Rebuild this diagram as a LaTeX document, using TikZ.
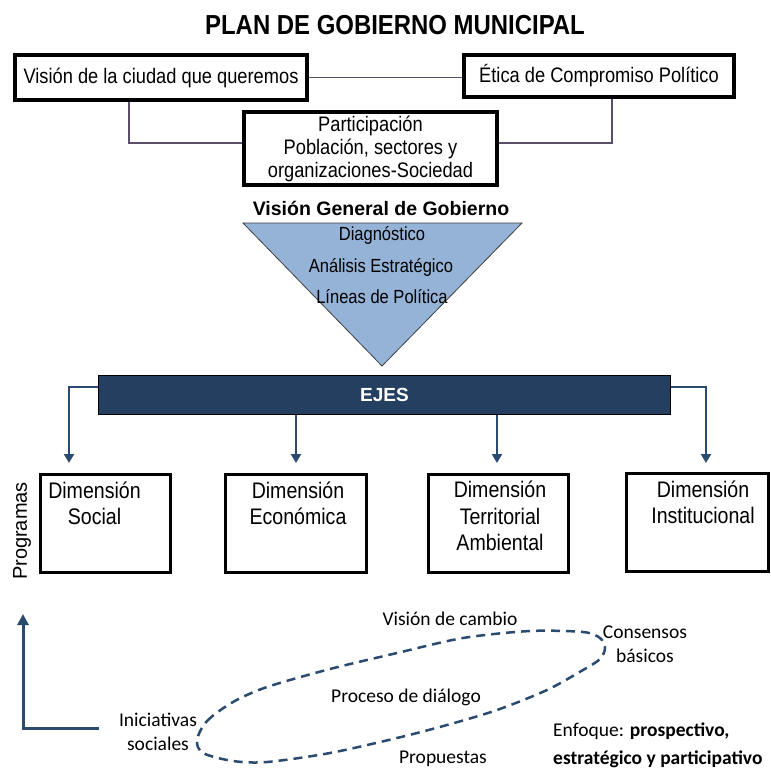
\documentclass[tikz,border=0pt]{standalone}
\usepackage{fontspec}
\setmainfont{Liberation Sans}
\newfontfamily\narrowfont[FakeStretch=0.87]{Liberation Sans}
\newfontfamily\calfont{Carlito}
\usetikzlibrary{arrows.meta}
\definecolor{trifill}{HTML}{95B3D7}
\definecolor{ejesblue}{HTML}{243F60}
\definecolor{arrowblue}{HTML}{2B4A6F}
\definecolor{linkgray}{HTML}{5A4E6A}

\tikzset{
  topbox/.style={draw, line width=3.5pt, inner sep=0pt, align=center, font=\narrowfont\fontsize{21}{23}\selectfont},
  dimbox/.style={draw, line width=3pt, minimum height=98pt},
  dimtxt/.style={anchor=north, align=center, font=\narrowfont\fontsize{22.5}{26.5}\selectfont},
  link/.style={draw=linkgray, line width=1.2pt},
  arr/.style={draw=arrowblue, line width=2pt, -{Triangle[width=10pt,length=9pt]}},
  tritxt/.style={font=\narrowfont\fontsize{19}{22}\selectfont},
  calib/.style={align=center, inner sep=1pt, font=\calfont\fontsize{19.5}{24}\selectfont}
}

\begin{document}
\begin{tikzpicture}[x=1pt,y=-1pt]
\path[use as bounding box, fill=white] (0,0) rectangle (771,771);

\node[font=\narrowfont\bfseries\fontsize{27.5}{30}\selectfont] (title) at (395,25) {PLAN DE GOBIERNO MUNICIPAL};

\node[topbox, minimum width=292pt, minimum height=45pt] (vision) at (161,77.5) {Visión de la ciudad que queremos};
\node[topbox, minimum width=270pt, minimum height=42pt] (etica) at (599,76) {Ética de Compromiso Político};
\node[topbox, minimum width=253pt, minimum height=73pt] (partic) at (370.5,148.5) {Participación\\Población, sectores y\\organizaciones-Sociedad};

\draw[link] (vision.east) -- (vision.east -| etica.west);
\draw[link] ([xshift=-32pt]vision.south) |- ([yshift=5.5pt]partic.west);
\draw[link] ([xshift=13pt]etica.south) |- ([yshift=5.5pt]partic.east);

\node[font=\bfseries\fontsize{19.5}{22}\selectfont] (vgg) at (381,208) {Visión General de Gobierno};

\coordinate (tl) at (243,223);
\coordinate (tr) at (522,223);
\coordinate (tb) at (382,366);
\draw[fill=trifill, draw=black!75, line width=0.8pt] (tl) -- (tr) -- (tb) -- cycle;

\node[tritxt] (diag) at (382,235) {Diagnóstico};
\node[tritxt] (anal) at (381,267) {Análisis Estratégico};
\node[tritxt] (lineas) at (382,297) {Líneas de Política};

\node[draw=black, fill=ejesblue, line width=0.8pt, minimum width=572pt, minimum height=39pt, text=white, font=\bfseries\fontsize{19}{22}\selectfont] (ejes) at (384.5,395) {EJES};

\coordinate (s1) at (69,463);
\coordinate (s2) at (296,463);
\coordinate (s3) at (497,463);
\coordinate (s4) at (706,463);
\draw[arr] ([yshift=8pt]ejes.west) -| (s1);
\draw[arr] (ejes.south -| s2) -- (s2);
\draw[arr] (ejes.south -| s3) -- (s3);
\draw[arr] ([yshift=8pt]ejes.east) -| (s4);

\node[dimbox, minimum width=130pt] (dsoc) at (105.5,523.5) {};
\node[dimbox, minimum width=141pt] (deco) at (296,523.5) {};
\node[dimbox, minimum width=140pt] (dter) at (498.5,523) {};
\node[dimbox, minimum width=142pt] (dins) at (697.5,522.5) {};
\node[dimtxt] (tsoc) at ([xshift=-11pt,yshift=-5pt]dsoc.north) {Dimensión\\Social};
\node[dimtxt] (teco) at ([xshift=2pt,yshift=-5pt]deco.north) {Dimensión\\Económica};
\node[dimtxt] (tter) at ([xshift=1.5pt,yshift=-5pt]dter.north) {Dimensión\\Territorial\\Ambiental};
\node[dimtxt] (tins) at ([xshift=5.5pt,yshift=-5pt]dins.north) {Dimensión\\Institucional};

\node[rotate=90, font=\fontsize{20}{24}\selectfont] (prog) at (22,531) {Programas};

\coordinate (axo) at (23,728);
\coordinate (axtop) at (23,614);
\coordinate (axend) at (99,728);
\draw[draw=arrowblue, line width=3pt, -{Triangle[width=11pt,length=11pt]}] (axend) -- (axo) -- (axtop);

\draw[draw=arrowblue, line width=2.5pt, dash pattern=on 9pt off 6pt] plot[smooth cycle] coordinates {(197,740) (207,721) (233,702) (267,687) (330,669) (397,653) (463,638) (530,631) (583,632) (600,638) (605,648) (600,659) (583,670) (547,690) (497,710) (447,725) (397,738) (330,753) (267,762) (233,761) (203,753)};

\node[calib] (cambio) at (450,619) {Visión de cambio};
\node[calib] (consensos) at (645,644) {Consensos\\básicos};
\node[calib] (dialogo) at (406,697) {Proceso de diálogo};
\node[calib] (iniciat) at (158,732) {Iniciativas\\sociales};
\node[calib] (propuestas) at (443,759) {Propuestas};
\node[calib, align=left, anchor=west, font=\calfont\fontsize{19.5}{28}\selectfont] (enfoque) at (552,745) {Enfoque: \textbf{prospectivo,}\\\textbf{estratégico y participativo}};
\end{tikzpicture}
\end{document}
